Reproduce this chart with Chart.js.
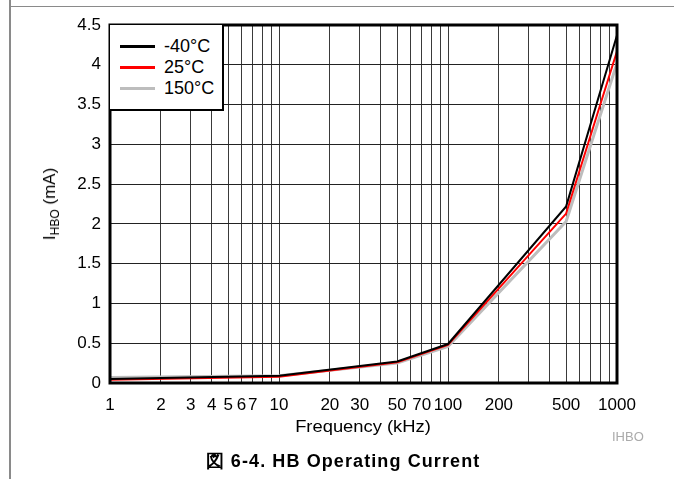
<!DOCTYPE html>
<html>
<head>
<meta charset="utf-8">
<script src="https://cdn.jsdelivr.net/npm/chart.js@4/dist/chart.umd.min.js"></script>
<style>
  body { margin: 0; background: #fff; font-family: Arial, "Liberation Sans", sans-serif; }
  #wrap { position: relative; width: 674px; height: 479px; overflow: hidden; }
  #chart { position: absolute; left: 0; top: 0; }
  .frame-v { position: absolute; left: 9px; top: 0; width: 2px; height: 479px; background: #8a8a8a; }
  .frame-h { position: absolute; left: 10px; top: 6px; width: 664px; height: 1px; background: #8a8a8a; }
  #ytitle { position: absolute; left: 51px; top: 204px; transform: translate(-50%, -50%) rotate(-90deg);
            font-size: 17px; white-space: nowrap; color: #000; }
  #ytitle sub { font-size: 12px; vertical-align: -4px; }
  #xtitle { position: absolute; left: 363px; top: 427px; transform: translate(-50%, -50%) scaleX(1.08);
            font-size: 17px; color: #000; white-space: nowrap; }
  #tag { position: absolute; left: 612px; top: 429px; font-size: 13px; color: #aaa; }
  #caption { position: absolute; left: 343px; top: 461px; transform: translate(-50%, -50%);
             font-size: 18px; font-weight: bold; letter-spacing: 1.1px; white-space: nowrap; }
  #legend { position: absolute; left: 110px; top: 25px; width: 112px; height: 84px; background: #fff;
            border: 2px solid #000; border-top: none; border-left: none; }
  .row { position: absolute; left: 10px; height: 22px; font-size: 18px; line-height: 22px; }
  .row .sw { position: absolute; left: 0; top: 10px; width: 35px; height: 3px; }
  .row span { position: absolute; left: 44px; top: 0; white-space: nowrap; }
</style>
</head>
<body>
<div id="wrap">
  <canvas id="chart" width="674" height="479"></canvas>
  <div class="frame-v"></div>
  <div class="frame-h"></div>
  <div id="legend"></div>
  <div id="ytitle">I<sub>HBO</sub> (mA)</div>
  <div id="xtitle">Frequency (kHz)</div>
  <div id="tag">IHBO</div>
  <div id="caption">図 6-4. HB Operating Current</div>
</div>
<script>
// frequency points (kHz)
const freq = [1, 10, 50, 100, 500, 1000];

// IHBO (mA) per temperature
const iMinus40 = [0.05, 0.09, 0.27, 0.49, 2.22, 4.37];
const i25 = [0.04, 0.08, 0.26, 0.48, 2.13, 4.17];
const i150 = [0.07, 0.09, 0.25, 0.46, 2.03, 4.02];

const seriesNames = ['-40°C', '25°C', '150°C'];
const seriesColors = ['#000000', '#ff0000', '#bdbdbd'];

// grid lines and labelled ticks on the log axis
const xGrid = [1, 2, 3, 4, 5, 6, 7, 8, 9, 10, 20, 30, 40, 50, 60, 70, 80, 90,
               100, 200, 300, 400, 500, 600, 700, 800, 900, 1000];
const xLabels = [1, 2, 3, 4, 5, 6, 7, 10, 20, 30, 50, 70, 100, 200, 500, 1000];

const toPoints = ys => freq.map((f, i) => ({ x: f, y: ys[i] }));
const allSeries = [iMinus40, i25, i150];

// legend box
const legend = document.getElementById('legend');
seriesNames.forEach((name, i) => {
    const row = document.createElement('div');
    row.className = 'row';
    row.style.top = (10 + i * 21) + 'px';
    row.innerHTML = `<div class="sw" style="background:${seriesColors[i]}"></div><span>${name}</span>`;
    legend.appendChild(row);
});

const plotFrame = {
    id: 'plotFrame',
    afterDatasetsDraw(chart) {
        const { ctx, chartArea: a } = chart;
        ctx.save();
        ctx.strokeStyle = '#000';
        ctx.lineWidth = 3;
        ctx.strokeRect(a.left, a.top, a.right - a.left, a.bottom - a.top);
        ctx.restore();
    }
};

const tickFont = { family: 'Arial, "Liberation Sans"', size: 17 };

new Chart(document.getElementById('chart'), {
    type: 'line',
    data: {
        datasets: allSeries.map((ys, i) => ({
            label: seriesNames[i],
            data: toPoints(ys),
            borderColor: seriesColors[i],
            borderWidth: i === 2 ? 3 : 2,
            pointRadius: 0,
            tension: 0,
            fill: false
        }))
    },
    options: {
        responsive: false,
        animation: false,
        layout: { padding: { left: 0, top: 25, right: 57, bottom: 0 } },
        plugins: { legend: { display: false }, tooltip: { enabled: false } },
        scales: {
            x: {
                type: 'logarithmic',
                min: 1,
                max: 1000,
                afterBuildTicks: s => { s.ticks = xGrid.map(v => ({ value: v })); },
                afterFit: s => { s.height = 96; },
                grid: { color: '#3a3a3a', lineWidth: 1, drawTicks: false },
                border: { display: false },
                ticks: {
                    autoSkip: false,
                    maxRotation: 0,
                    padding: 12,
                    color: '#000',
                    font: tickFont,
                    callback: v => xLabels.includes(v) ? String(v) : ''
                }
            },
            y: {
                min: 0,
                max: 4.5,
                afterFit: s => { s.width = 110; },
                grid: { color: '#222', lineWidth: 1, drawTicks: false },
                border: { display: false },
                ticks: {
                    stepSize: 0.5,
                    padding: 9,
                    color: '#000',
                    font: tickFont,
                    callback: v => String(Math.round(v * 10) / 10)
                }
            }
        }
    },
    plugins: [plotFrame]
});
</script>
</body>
</html>
